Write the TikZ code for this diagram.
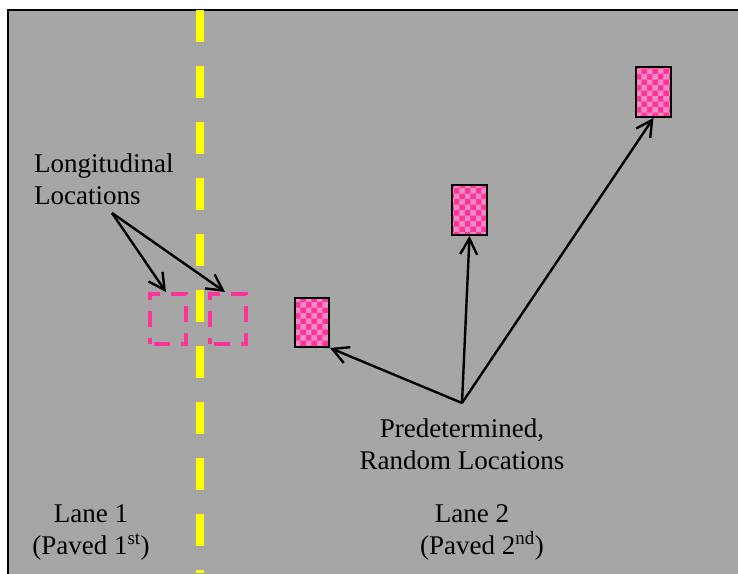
\documentclass[tikz,border=0pt]{standalone}
\usepackage{fontspec}
\setmainfont{Liberation Serif}
\usetikzlibrary{arrows.meta,patterns}
\definecolor{road}{RGB}{166,166,166}
\definecolor{hotpink}{RGB}{255,51,153}
\definecolor{lightpink}{RGB}{240,140,195}
\definecolor{lineyellow}{RGB}{255,255,0}
\tikzset{
  lbl/.style={font=\fontsize{27}{32}\selectfont, text=black, inner sep=0pt, align=center},
  spot/.style={draw=black, line width=1.8pt, preaction={fill=hotpink}, preaction={pattern=checkerboard, pattern color=lightpink}},
  core/.style={draw=hotpink, line width=3.5pt, dash pattern=on 16pt off 11pt, dash phase=-4pt},
  arr/.style={draw=black, line width=2.4pt, -{Straight Barb[length=16pt,width=17pt,line width=2.4pt]}},
  centre/.style={draw=lineyellow, line width=8pt, dash pattern=on 32pt off 24pt}
}
\begin{document}
\begin{tikzpicture}[x=1pt,y=-1pt]
\useasboundingbox (0,0) rectangle (738,573);
\fill[road] (8,10) rectangle (740,575);
\draw[black, line width=2pt] (8,575) -- (8,10) -- (740,10);
% centre line
\coordinate (ct) at (200,10);
\coordinate (cb) at (200,573);
\draw[centre] (ct) -- (cb);
% cores
\node[core, minimum width=36pt, minimum height=50pt, inner sep=0pt] (c1) at (168,319) {};
\node[core, minimum width=36pt, minimum height=50pt, inner sep=0pt] (c2) at (228,319) {};
% random spots
\node[spot, minimum width=34pt, minimum height=49pt, inner sep=0pt] (s1) at (312,322.5) {};
\node[spot, minimum width=35pt, minimum height=50pt, inner sep=0pt] (s2) at (469.5,210) {};
\node[spot, minimum width=35pt, minimum height=50pt, inner sep=0pt] (s3) at (653.5,92) {};
% labels (base = baseline of last line)
\node[lbl, anchor=base west, align=left] (ll) at (34,204) {Longitudinal\\Locations};
\node[lbl, anchor=base] (pr) at (462,469) {Predetermined,\\Random Locations};
\node[lbl, anchor=base] (l1) at (91,554) {Lane 1\\(Paved 1\textsuperscript{st})};
\node[lbl, anchor=base] (l2) at (482,554) {Lane 2\hspace*{20pt}\\(Paved 2\textsuperscript{nd})};
% arrows
\coordinate (lo) at (112,213);
\coordinate (po) at (462,403);
\draw[arr] (lo) -- (166,292);
\draw[arr] (lo) -- (225,292);
\draw[arr] (po) -- (s1.south east);
\draw[arr] (po) -- (s2.south);
\draw[arr] (po) -- (s3.south);
\end{tikzpicture}
\end{document}
